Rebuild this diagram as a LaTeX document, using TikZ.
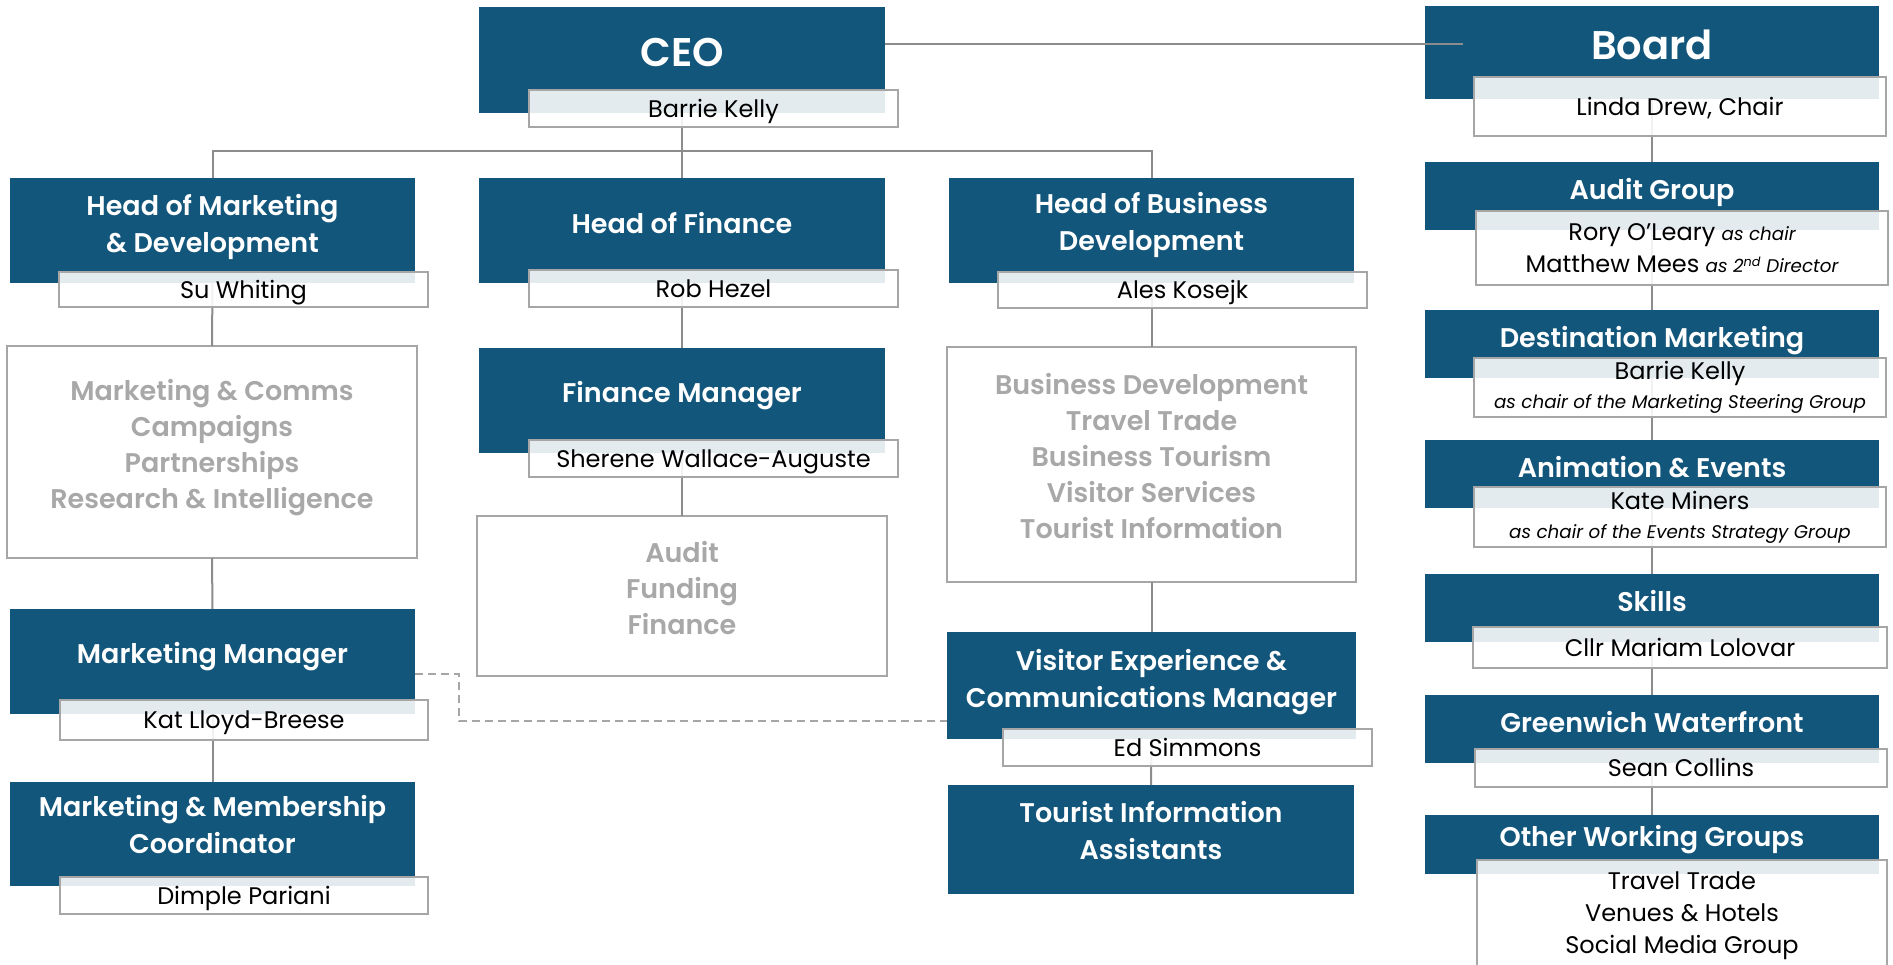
\documentclass[tikz,border=0pt]{standalone}
\usepackage{fontspec}
\setmainfont{Poppins}
\IfFontExistsTF{Poppins SemiBold}
  {\newfontfamily\heavyfont{Poppins SemiBold}}
  {\newcommand\heavyfont{\bfseries}}
\usepackage{tikz}
\definecolor{orgblue}{HTML}{13567B}
\definecolor{linegrey}{HTML}{8C8C8C}
\definecolor{boxgrey}{HTML}{A6A6A6}
\definecolor{dutygrey}{HTML}{A8A8A8}
\newcommand\rolenote[1]{{\itshape\fontsize{18.3}{26}\selectfont #1}}
\tikzset{
  unit/.style={fill=orgblue, inner sep=0pt, outer sep=0pt, anchor=north west,
               minimum width=405pt},
  group/.style={unit, minimum width=454pt, minimum height=68pt},
  head/.style={text=white, anchor=base, align=center, inner sep=0pt,
               font=\heavyfont\fontsize{27}{37}\selectfont},
  big/.style={head, font=\heavyfont\fontsize{40}{48}\selectfont},
  who/.style={draw=boxgrey, line width=2.5pt, fill=white, fill opacity=.885,
              text opacity=1, text=black, anchor=north west, inner sep=0pt,
              outer sep=0pt, align=center, font=\fontsize{24}{32}\selectfont},
  one line/.style={text height=17pt, text depth=0pt},
  duties/.style={draw=boxgrey, line width=2.5pt, fill=white,
                 anchor=north west, inner sep=0pt, outer sep=0pt},
  duty text/.style={text=dutygrey, anchor=base, align=center, inner sep=0pt,
                    font=\heavyfont\fontsize{27}{36}\selectfont}
}

\begin{document}
\begin{tikzpicture}[x=1pt, y=-1pt,
  link/.style={draw=linegrey, line width=2pt},
  dashlink/.style={draw=boxgrey, line width=2pt, dash pattern=on 8pt off 5pt}]
\useasboundingbox (0,0) rectangle (1893,964);

% the blue boxes
\node[unit, minimum width=406pt, minimum height=106pt] (ceo) at (479,7) {};
\node[group, minimum height=93pt] (board) at (1425,6) {};
\node[unit, minimum height=105pt] (hmd) at (10,178) {};
\node[unit, minimum width=406pt, minimum height=105pt] (hf) at (479,178) {};
\node[unit, minimum height=105pt] (hbd) at (949,178) {};
\node[unit, minimum width=406pt, minimum height=105pt] (fm) at (479,348) {};
\node[unit, minimum height=105pt] (mm) at (10,609) {};
\node[unit, minimum height=104pt] (mmc) at (10,782) {};
\node[unit, minimum width=409pt, minimum height=107pt] (ve) at (947,632) {};
\node[unit, minimum width=406pt, minimum height=109pt] (tia) at (948,785) {};
\node[group] (ag) at (1425,162) {};
\node[group] (dm) at (1425,310) {};
\node[group] (ae) at (1425,440) {};
\node[group] (sk) at (1425,574) {};
\node[group] (gw) at (1425,695) {};
\node[group, minimum height=59pt] (ow) at (1425,815) {};

% the grey boxes
\node[duties, minimum width=410pt, minimum height=212pt] (mc) at (7,346) {};
\node[duties, minimum width=410pt, minimum height=160pt] (af) at (477,516) {};
\node[duties, minimum width=409pt, minimum height=235pt] (bd) at (947,347) {};
\node[duty text] (mc t) at ([yshift=-162pt]mc.north)
  {Marketing \& Comms\\ Campaigns\\ Partnerships\\ Research \& Intelligence};
\node[duty text] (af t) at ([yshift=-118pt]af.north) {Audit\\ Funding\\ Finance};
\node[duty text] (bd t) at ([yshift=-191pt]bd.north)
  {Business Development\\ Travel Trade\\ Business Tourism\\ Visitor Services\\
   Tourist Information};

% connectors
\coordinate (bus) at (682,151);
\coordinate (bl) at (1463,44);
\coordinate (dj) at (459,721);
\draw[link] (ceo.south) -- (hf.north);
\draw[link] (hmd.north) |- (bus) -| (hbd.north);
\draw[link] (ceo.east |- bl) -- (bl);
\foreach \a/\b in {hmd/mc, mc/mm, mm/mmc, hf/fm, fm/af, hbd/bd, bd/ve, ve/tia,
                   board/ag, ag/dm, dm/ae, ae/sk, sk/gw, gw/ow}
  \draw[link] (\a.south) -- (\b.north);
\draw[dashlink] ([yshift=-12pt]mm.east) -| (dj) -- (dj -| ve.west);

% titles (base = last line)
\node[big] (ceo t) at ([yshift=-59pt]ceo.north) {CEO};
\node[big] (board t) at ([yshift=-53pt]board.north) {Board};
\node[head] (hmd t) at ([yshift=-74pt]hmd.north) {Head of Marketing\\ \& Development};
\node[head] (hf t) at ([yshift=-55pt]hf.north) {Head of Finance};
\node[head] (hbd t) at ([yshift=-72pt]hbd.north) {Head of Business\\ Development};
\node[head] (fm t) at ([yshift=-54pt]fm.north) {Finance Manager};
\node[head] (mm t) at ([yshift=-54pt]mm.north) {Marketing Manager};
\node[head] (mmc t) at ([yshift=-71pt]mmc.north) {Marketing \& Membership\\ Coordinator};
\node[head] (ve t) at ([yshift=-75pt]ve.north) {Visitor Experience \&\\ Communications Manager};
\node[head] (tia t) at ([yshift=-74pt]tia.north) {Tourist Information\\ Assistants};
\node[head] (ag t) at ([yshift=-37pt]ag.north) {Audit Group};
\node[head] (dm t) at ([yshift=-37pt]dm.north) {Destination Marketing};
\node[head] (ae t) at ([yshift=-37pt]ae.north) {Animation \& Events};
\node[head] (sk t) at ([yshift=-37pt]sk.north) {Skills};
\node[head] (gw t) at ([yshift=-37pt]gw.north) {Greenwich Waterfront};
\node[head] (ow t) at ([yshift=-31pt]ow.north) {Other Working Groups};

% the names
\node[who, one line, minimum width=369pt, minimum height=37pt] (ceo n) at (529,90) {Barrie Kelly};
\node[who, one line, minimum width=412pt, minimum height=59pt] (board n) at (1474,77) {Linda Drew, Chair};
\node[who, one line, minimum width=369pt, minimum height=35pt] (hmd n) at (59,272) {Su Whiting};
\node[who, one line, minimum width=369pt, minimum height=37pt] (hf n) at (529,270) {Rob Hezel};
\node[who, one line, minimum width=369pt, minimum height=36pt] (hbd n) at (998,272) {Ales Kosejk};
\node[who, one line, minimum width=369pt, minimum height=37pt] (fm n) at (529,440) {Sherene Wallace-Auguste};
\node[who, one line, minimum width=368pt, minimum height=40pt] (mm n) at (60,700) {Kat Lloyd-Breese};
\node[who, one line, minimum width=368pt, minimum height=37pt] (mmc n) at (60,877) {Dimple Pariani};
\node[who, one line, minimum width=369pt, minimum height=37pt] (ve n) at (1003,729) {Ed Simmons};
\node[who, minimum width=412pt, minimum height=74pt] (ag n) at (1476,211)
  {Rory O’Leary \rolenote{as chair}\\ Matthew Mees \rolenote{as 2\textsuperscript{nd} Director}};
\node[who, minimum width=412pt, minimum height=59pt, font=\fontsize{24}{29}\selectfont] (dm n) at (1474,358)
  {Barrie Kelly\\ \rolenote{as chair of the Marketing Steering Group}};
\node[who, minimum width=412pt, minimum height=60pt, font=\fontsize{24}{29}\selectfont] (ae n) at (1474,487)
  {Kate Miners\\ \rolenote{as chair of the Events Strategy Group}};
\node[who, one line, minimum width=414pt, minimum height=41pt] (sk n) at (1473,627) {Cllr Mariam Lolovar};
\node[who, one line, minimum width=412pt, minimum height=38pt] (gw n) at (1475,749) {Sean Collins};
\node[who, minimum width=410pt, minimum height=111pt] (ow n) at (1477,860)
  {Travel Trade\\ Venues \& Hotels\\ Social Media Group};
\end{tikzpicture}
\end{document}
